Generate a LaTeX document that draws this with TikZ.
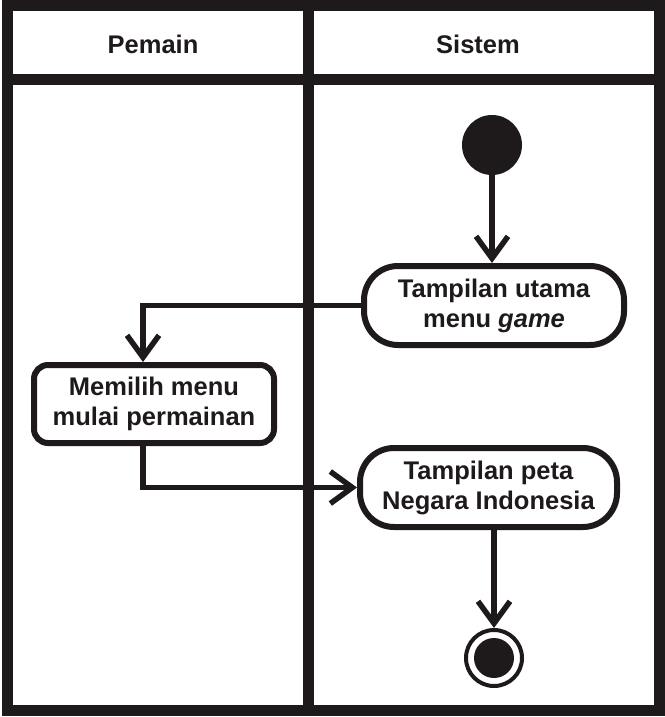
\documentclass[tikz,border=0pt]{standalone}
\usepackage{fontspec}
\setmainfont{Liberation Sans}
\usetikzlibrary{arrows.meta,calc}
\definecolor{ink}{RGB}{30,26,27}
\begin{document}
\begin{tikzpicture}[x=1pt,y=-1pt,
  frame/.style={draw=ink,line width=11pt},
  lanehead/.style={font=\fontsize{25.5}{30}\selectfont\bfseries,text=ink},
  act/.style={draw=ink,line width=6pt,align=center,text=ink,
    font=\fontsize{25.5}{30}\selectfont\bfseries,inner sep=0pt},
  flow/.style={draw=ink,line width=5.5pt,
    -{Straight Barb[length=22pt,width=32pt]}},
  link/.style={draw=ink,line width=5.5pt}]
\useasboundingbox (0,0) rectangle (664,717);
% frame
\draw[frame] (7,5.5) rectangle (659.5,710.5);
\draw[frame] (7,79) -- (659.5,79);
\draw[frame] (308,5.5) -- (308,710.5);
\node[lanehead] (h1) at (153,44) {Pemain};
\node[lanehead] (h2) at (478,44) {Sistem};
% nodes
\node[circle,fill=ink,minimum size=60pt,inner sep=0pt] (start) at (492,145) {};
\node[act,rounded corners=34pt,minimum width=260pt,minimum height=79pt] (n1) at (494,305.5) {Tampilan utama\\menu \textit{game}};
\node[act,rounded corners=14pt,minimum width=240pt,minimum height=78pt] (n2) at (154,404) {Memilih menu\\mulai permainan};
\node[act,rounded corners=34pt,minimum width=257pt,minimum height=79pt] (n3) at (488.5,487.5) {Tampilan peta\\Negara Indonesia};
\node[circle,draw=ink,line width=4pt,minimum size=56pt,inner sep=0pt] (endo) at (494,658) {};
\node[circle,fill=ink,minimum size=40pt,inner sep=0pt] (endi) at (494,658) {};
% connectors
\draw[flow] (start) -- (start |- n1.north);
\draw[flow] (n1.west) -| ([xshift=-11pt]n2.north);
\draw[flow] ([xshift=-11pt]n2.south) |- (n3.west);
\draw[flow] (endo |- n3.south) -- (endo.north);
\end{tikzpicture}
\end{document}
